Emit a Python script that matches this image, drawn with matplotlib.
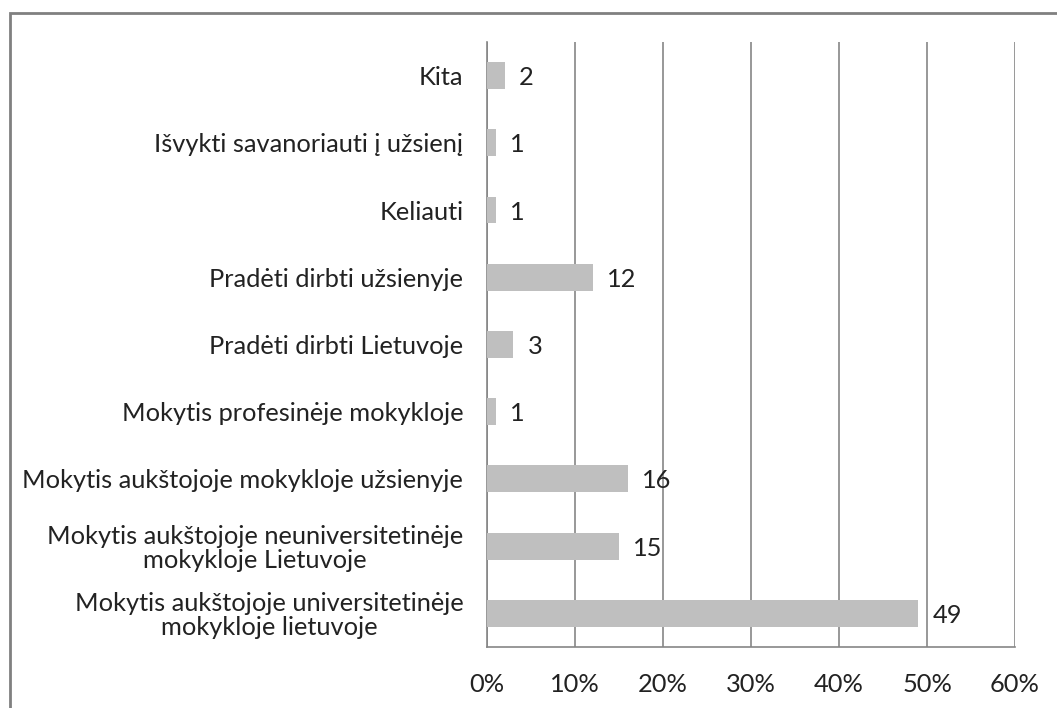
import matplotlib
matplotlib.use("Agg")
import matplotlib.pyplot as plt
from matplotlib.patches import Rectangle
from matplotlib.ticker import FuncFormatter

categories = [
    "Mokytis aukštojoje universitetinėje\nmokykloje lietuvoje",
    "Mokytis aukštojoje neuniversitetinėje\nmokykloje Lietuvoje",
    "Mokytis aukštojoje mokykloje užsienyje",
    "Mokytis profesinėje mokykloje",
    "Pradėti dirbti Lietuvoje",
    "Pradėti dirbti užsienyje",
    "Keliauti",
    "Išvykti savanoriauti į užsienį",
    "Kita",
]
values = [49, 15, 16, 1, 3, 12, 1, 1, 2]
xticks = [0, 10, 20, 30, 40, 50, 60]

plt.rcParams['font.family'] = ['Lato', 'DejaVu Sans']
FS = 18.3

fig = plt.figure(figsize=(10.57, 7.08), dpi=100)
ax = fig.add_axes([0.4607, 0.0862, 0.4996, 0.8545])

ypos = list(range(len(categories)))
ax.barh(ypos, values, height=0.4, color="#BFBFBF", zorder=3)
for y, v in zip(ypos, values):
    ax.annotate(str(v), (v, y), xytext=(14, -2), textcoords="offset pixels",
                ha="left", va="center", fontsize=FS, color="#222222")

ax.set_xlim(xticks[0], xticks[-1])
ax.set_ylim(-0.5, len(categories) - 0.5)
ax.set_xticks(xticks)
ax.xaxis.set_major_formatter(FuncFormatter(lambda x, p: f"{int(x)}%"))
ax.set_yticks(ypos)
ax.set_yticklabels(categories, multialignment="center", linespacing=1.05)
ax.tick_params(axis="x", length=0, pad=19, labelsize=FS, colors="#222222")
ax.tick_params(axis="y", length=0, pad=17, labelsize=FS, colors="#222222")
ax.grid(axis="x", color="#868686", linewidth=1.2, zorder=0)
for s in ["top", "right"]:
    ax.spines[s].set_visible(False)
for s in ["left", "bottom"]:
    ax.spines[s].set_color("#868686")
    ax.spines[s].set_linewidth(1.2)

fig.patches.append(Rectangle((9.5 / 1057, -0.1), 1.2, (708 - 13) / 708 + 0.1,
                             transform=fig.transFigure, fill=False,
                             edgecolor="#808080", linewidth=2))

fig.savefig("out.png", dpi=100)
